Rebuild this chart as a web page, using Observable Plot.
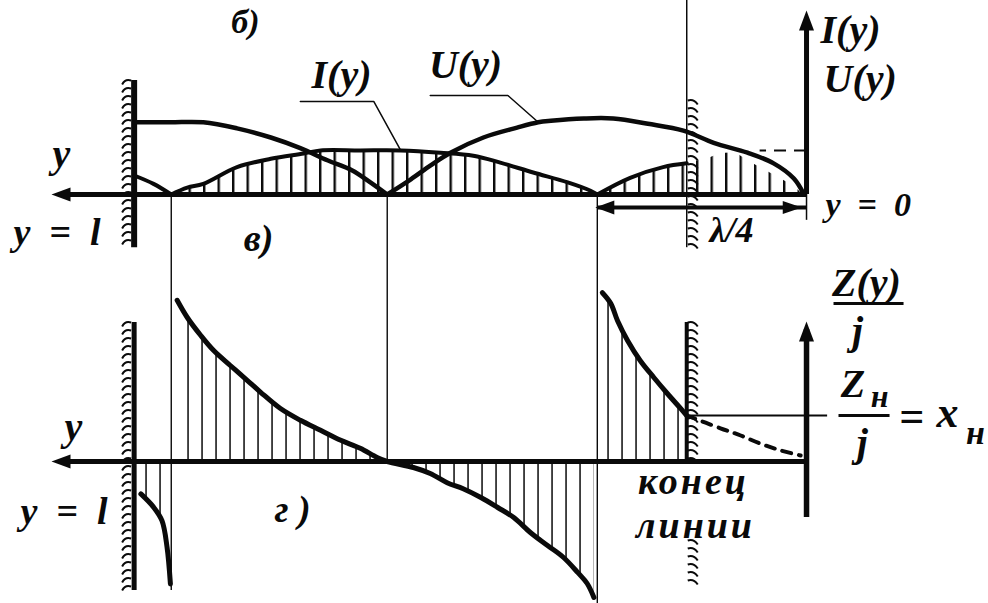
<!DOCTYPE html>
<html>
<head>
<meta charset="utf-8">
<script src="https://cdn.jsdelivr.net/npm/d3@7"></script>
<script src="https://cdn.jsdelivr.net/npm/@observablehq/plot@0.6"></script>
<style>
  html, body { margin: 0; padding: 0; background: #fff; }
  #figure { position: relative; width: 988px; height: 603px; }
  #figure svg { position: absolute; left: 0; top: 0; }
</style>
</head>
<body>
<div id="figure"></div>
<script>
// Distance y along the line, measured from the equivalent short (y = 0), in wavelengths.
const lineLength = 0.797;          // y = l, generator end
const lineEnd = 0.142;             // конец линии (reactive load)
const nodes = [0.753, 0.497, 0.248];
const quarterWave = [0.248, 0];    // λ/4 dimension

// б) voltage amplitude U(y), relative units: [y/λ, U]
const uArc1 = [[0.797, 0.95], [0.754, 0.95], [0.715, 0.95], [0.675, 0.87], [0.635, 0.75],
  [0.600, 0.61], [0.568, 0.45], [0.539, 0.32], [0.517, 0.16], [0.497, 0]];
const uArc2 = [[0.497, 0], [0.469, 0.20], [0.446, 0.38], [0.422, 0.55], [0.383, 0.75],
  [0.343, 0.88], [0.318, 0.95], [0.303, 0.97], [0.264, 1.0], [0.229, 1.0], [0.188, 0.93],
  [0.146, 0.84], [0.110, 0.68], [0.070, 0.55], [0.039, 0.41], [0.015, 0.21], [0.003, 0]];

// б) current amplitude I(y), same units: [y/λ, I]
const iArc1 = [[0.797, 0.25], [0.774, 0.14], [0.753, 0]];
const iArc2 = [[0.753, 0], [0.734, 0.09], [0.715, 0.14], [0.675, 0.36], [0.635, 0.47],
  [0.596, 0.54], [0.576, 0.58], [0.529, 0.58], [0.481, 0.58], [0.434, 0.55], [0.395, 0.51],
  [0.363, 0.42], [0.324, 0.29], [0.283, 0.16], [0.256, 0.05], [0.248, 0]];
const iArc3 = [[0.248, 0], [0.209, 0.22], [0.170, 0.36], [0.142, 0.41]];
// hatched stretch beyond the end of the line, up to the equivalent short
const iStub = [[0.142, 0.41], [0.117, 0.47], [0.102, 0.54], [0.084, 0.55], [0.066, 0.42],
  [0.049, 0.32], [0.031, 0.21], [0.015, 0.11], [0.004, 0]];
const iMax = d3.max(iArc2, d => d[1]);

// г) input reactance Z(y)/j in units of ρ: [y/λ, Z/j]
const zLeft = [[0.789, -0.81], [0.774, -1.14], [0.764, -1.48], [0.758, -2.14], [0.754, -3.06]];
const zMain = [[0.746, 4.03], [0.734, 3.60], [0.718, 3.15], [0.703, 2.78], [0.683, 2.40],
  [0.663, 2.03], [0.647, 1.73], [0.624, 1.33], [0.600, 1.03], [0.576, 0.78], [0.552, 0.53],
  [0.529, 0.33], [0.509, 0.10], [0.497, 0], [0.466, -0.15], [0.446, -0.30], [0.426, -0.53],
  [0.407, -0.68], [0.386, -0.90], [0.366, -1.15], [0.347, -1.40], [0.327, -1.78],
  [0.307, -2.10], [0.288, -2.40], [0.271, -2.78], [0.260, -3.05], [0.252, -3.40]];
const xLoad = 1.15;                 // Zн / j = xн
const zRight = [[0.242, 4.22], [0.232, 3.95], [0.224, 3.52], [0.212, 3.02], [0.197, 2.52],
  [0.181, 2.10], [0.165, 1.70], [0.149, 1.32], [0.142, xLoad]];
const zExt = [[0.142, xLoad], [0.102, 0.83], [0.078, 0.65], [0.055, 0.45], [0.031, 0.28], [0.007, 0.15]];

// ---------------------------------------------------------------------------
const W = 988, H = 603;
const xDomain = [0.9554, -0.2157];       // y increases to the left
const topDomain = [-5.3816, 2.5526];     // б): U, I
const botDomain = [-3.55, 11.525];       // г): Z/j
const topY = d3.scaleLinear(topDomain, [H, 0]);
const botY = d3.scaleLinear(botDomain, [H, 0]);

const X = d => d[0], Y = d => d[1];
const ink = "#0a0a0a";
const font = {fontFamily: "Liberation Serif", fontWeight: "bold", fontStyle: "italic", fill: ink};
const sp = "\u2002"; // wide space around "="

// hatch strokes along a wall, one every stepPx pixels
function wallTicks(t, vFrom, vTo, yScale, stepPx) {
  const a = yScale(vFrom), b = yScale(vTo);
  return d3.range(Math.min(a, b) + 2, Math.max(a, b), stepPx).map(py => ({t, v: yScale.invert(py)}));
}
const tickLeft = {draw(c) { c.moveTo(-3, -2); c.quadraticCurveTo(-9, -4, -12, 2); }};
const tickRight = {draw(c) { c.moveTo(1, -2); c.quadraticCurveTo(7, -4, 11, 2); }};
const headLeft = {draw(c) { c.moveTo(-2, 0); c.lineTo(17, -7); c.lineTo(17, 7); c.closePath(); }};
const headRight = {draw(c) { c.moveTo(2, 0); c.lineTo(-17, -6.5); c.lineTo(-17, 6.5); c.closePath(); }};
const headUp = {draw(c) { c.moveTo(0, -2); c.lineTo(-7.5, 18); c.lineTo(7.5, 18); c.closePath(); }};

const label = (s, t, v, size, opts = {}) =>
  Plot.text([s], {x: t, y: v, fontSize: size, ...font, ...opts});
const head = (t, v, symbol) => Plot.dot([0], {x: t, y: v, symbol, fill: ink, stroke: "none"});
const ticks = (data, symbol) => Plot.dot(data, {x: "t", y: "v", symbol, fill: "none", stroke: ink, strokeWidth: 2});

const axisTip = 0.8926;
const dimV = -0.171;

// б) standing waves of voltage and current
const topPlot = Plot.plot({
  width: W, height: H, margin: 0,
  x: {domain: xDomain, axis: null},
  y: {domain: topDomain, axis: null},
  marks: [
    Plot.areaY(iArc2, {x: X, y: Y, fill: "url(#hatch-ui)", curve: "catmull-rom"}),
    Plot.areaY(iArc3, {x: X, y: Y, fill: "url(#hatch-ui)", curve: "catmull-rom"}),
    Plot.areaY(iStub, {x: X, y: Y, fill: "url(#hatch-ui)"}),
    // walls: generator end and end of line
    Plot.ruleX([lineLength], {y1: 1.5, y2: -0.70, stroke: ink, strokeWidth: 6}),
    ticks(wallTicks(lineLength, 1.5, -0.70, topY, 8), tickLeft),
    Plot.ruleX([lineEnd], {y1: topDomain[1], y2: -0.70, stroke: ink, strokeWidth: 1.5}),
    ticks(wallTicks(lineEnd, 1.237, -0.70, topY, 8), tickRight),
    // axes
    Plot.ruleY([0], {x1: 0, x2: axisTip - 0.01, stroke: ink, strokeWidth: 5}),
    head(axisTip, 0, headLeft),
    Plot.ruleX([0], {y1: 0, y2: 2.3, stroke: ink, strokeWidth: 5}),
    head(0, 2.395, headUp),
    // curves
    Plot.line(uArc1, {x: X, y: Y, stroke: ink, strokeWidth: 4.5, curve: "catmull-rom"}),
    Plot.line(uArc2, {x: X, y: Y, stroke: ink, strokeWidth: 4.5, curve: "catmull-rom"}),
    Plot.line(iArc1, {x: X, y: Y, stroke: ink, strokeWidth: 4, curve: "catmull-rom"}),
    Plot.line(iArc2, {x: X, y: Y, stroke: ink, strokeWidth: 4, curve: "catmull-rom"}),
    Plot.line(iArc3, {x: X, y: Y, stroke: ink, strokeWidth: 4, curve: "catmull-rom"}),
    Plot.ruleY([iMax], {x1: 0, x2: 0.055, stroke: ink, strokeWidth: 2, strokeDasharray: "12 8"}),
    // λ/4 dimension
    Plot.link([quarterWave], {x1: d => d[0], x2: d => d[1], y1: dimV, y2: dimV, stroke: ink, strokeWidth: 4}),
    head(quarterWave[0], dimV, headLeft),
    head(quarterWave[1] + 0.008, dimV, headRight),
    Plot.ruleX([0], {y1: 0, y2: -0.34, stroke: ink, strokeWidth: 1.5}),
    // leaders
    Plot.line([[0.600, 1.224], [0.513, 1.224], iArc2[8]], {x: X, y: Y, stroke: ink, strokeWidth: 1.5}),
    Plot.line([[0.446, 1.303], [0.354, 1.303], uArc2[6]], {x: X, y: Y, stroke: ink, strokeWidth: 1.5}),
    // labels
    label("б)", 0.665, 2.27, 34),
    label("I(y)", 0.5512, 1.565, 40),
    label("U(y)", 0.4042, 1.70, 40),
    label("I(y)", -0.0166, 2.16, 40, {textAnchor: "start"}),
    label("U(y)", -0.0202, 1.52, 40, {textAnchor: "start"}),
    label("y", 0.8831, 0.53, 40),
    label(`y${sp}=${sp}l`, 0.940, -0.50, 38, {textAnchor: "start"}),
    label("в)", 0.6496, -0.58, 38),
    label(`y${sp}=${sp}0`, -0.0225, -0.14, 34, {textAnchor: "start"}),
    label("λ/4", 0.0889, -0.47, 36)
  ]
});

// г) reactance along the line
const topAxisInBot = botY.invert(topY(0));
const guideEnds = [-3.225, 0, botDomain[0]];
const botPlot = Plot.plot({
  width: W, height: H, margin: 0,
  x: {domain: xDomain, axis: null},
  y: {domain: botDomain, axis: null},
  marks: [
    Plot.areaY(zMain, {x: X, y: Y, fill: "url(#hatch-z)", curve: "catmull-rom"}),
    Plot.areaY(zRight, {x: X, y: Y, fill: "url(#hatch-z)", curve: "catmull-rom"}),
    Plot.areaY(zLeft, {x: X, y: Y, fill: "url(#hatch-z)", curve: "catmull-rom"}),
    // node guides shared by both diagrams
    Plot.ruleX(nodes, {y1: topAxisInBot, y2: (d, i) => guideEnds[i], stroke: ink, strokeWidth: 1.4}),
    // walls
    Plot.ruleX([lineLength], {y1: 3.475, y2: -3.225, stroke: ink, strokeWidth: 5}),
    ticks(wallTicks(lineLength, 3.475, -3.225, botY, 8), tickLeft),
    Plot.ruleX([lineEnd], {y1: 3.475, y2: 0, stroke: ink, strokeWidth: 4}),
    ticks(wallTicks(lineEnd, 3.475, 0, botY, 8), tickRight),
    ticks(wallTicks(lineEnd, -1.975, -3.1, botY, 8), tickRight),
    // axes
    Plot.ruleY([0], {x1: 0, x2: axisTip - 0.01, stroke: ink, strokeWidth: 5}),
    head(axisTip, 0, headLeft),
    Plot.ruleX([0], {y1: -1.4, y2: 3.3, stroke: ink, strokeWidth: 5.5}),
    head(0, 3.45, headUp),
    // curves
    Plot.line(zLeft, {x: X, y: Y, stroke: ink, strokeWidth: 5, curve: "catmull-rom"}),
    Plot.line(zMain, {x: X, y: Y, stroke: ink, strokeWidth: 5, curve: "catmull-rom"}),
    Plot.line(zRight, {x: X, y: Y, stroke: ink, strokeWidth: 5, curve: "catmull-rom"}),
    Plot.line(zExt, {x: X, y: Y, stroke: ink, strokeWidth: 4, strokeDasharray: "9 8", curve: "catmull-rom"}),
    Plot.ruleY([xLoad], {x1: lineEnd, x2: -0.025, stroke: ink, strokeWidth: 2}),
    // Z(y)/j
    label("Z(y)", -0.0711, 4.45, 40),
    Plot.link([0], {x1: -0.032, x2: -0.115, y1: 3.95, y2: 3.95, stroke: ink, strokeWidth: 3}),
    label("j", -0.0604, 3.27, 40),
    // Zн/j = xн
    label("Z", -0.055, 1.93, 40),
    label("н", -0.0865, 1.63, 32),
    Plot.link([0], {x1: -0.0379, x2: -0.0984, y1: 1.15, y2: 1.15, stroke: ink, strokeWidth: 3}),
    label("j", -0.066, 0.45, 40),
    label("=", -0.1245, 1.12, 44),
    label("x", -0.1671, 1.22, 44),
    label("н", -0.2003, 0.72, 34),
    // other labels
    label("y", 0.8689, 0.87, 40),
    label(`y${sp}=${sp}l`, 0.9317, -1.27, 38, {textAnchor: "start"}),
    label("г )", 0.6093, -1.22, 38),
    label("конец", 0.134, -0.50, 38),
    label("линии", 0.1316, -1.62, 38)
  ]
});

function addPatterns(svg) {
  const defs = document.createElementNS("http://www.w3.org/2000/svg", "defs");
  defs.innerHTML =
    `<pattern id="hatch-ui" patternUnits="userSpaceOnUse" width="14.5" height="10">
       <rect x="0" y="0" width="2.4" height="10" fill="${ink}"/></pattern>
     <pattern id="hatch-z" patternUnits="userSpaceOnUse" width="14" height="10">
       <rect x="5.3" y="0" width="1.5" height="10" fill="${ink}"/></pattern>`;
  svg.insertBefore(defs, svg.firstChild);
  svg.style.background = "transparent";
}
addPatterns(topPlot);
addPatterns(botPlot);
// the caption words under the end of the line are set a little wider
d3.select(botPlot).selectAll("text")
  .filter(function() { return /конец|линии/.test(this.textContent); })
  .style("letter-spacing", "3px");
document.getElementById("figure").append(topPlot, botPlot);
</script>
</body>
</html>
